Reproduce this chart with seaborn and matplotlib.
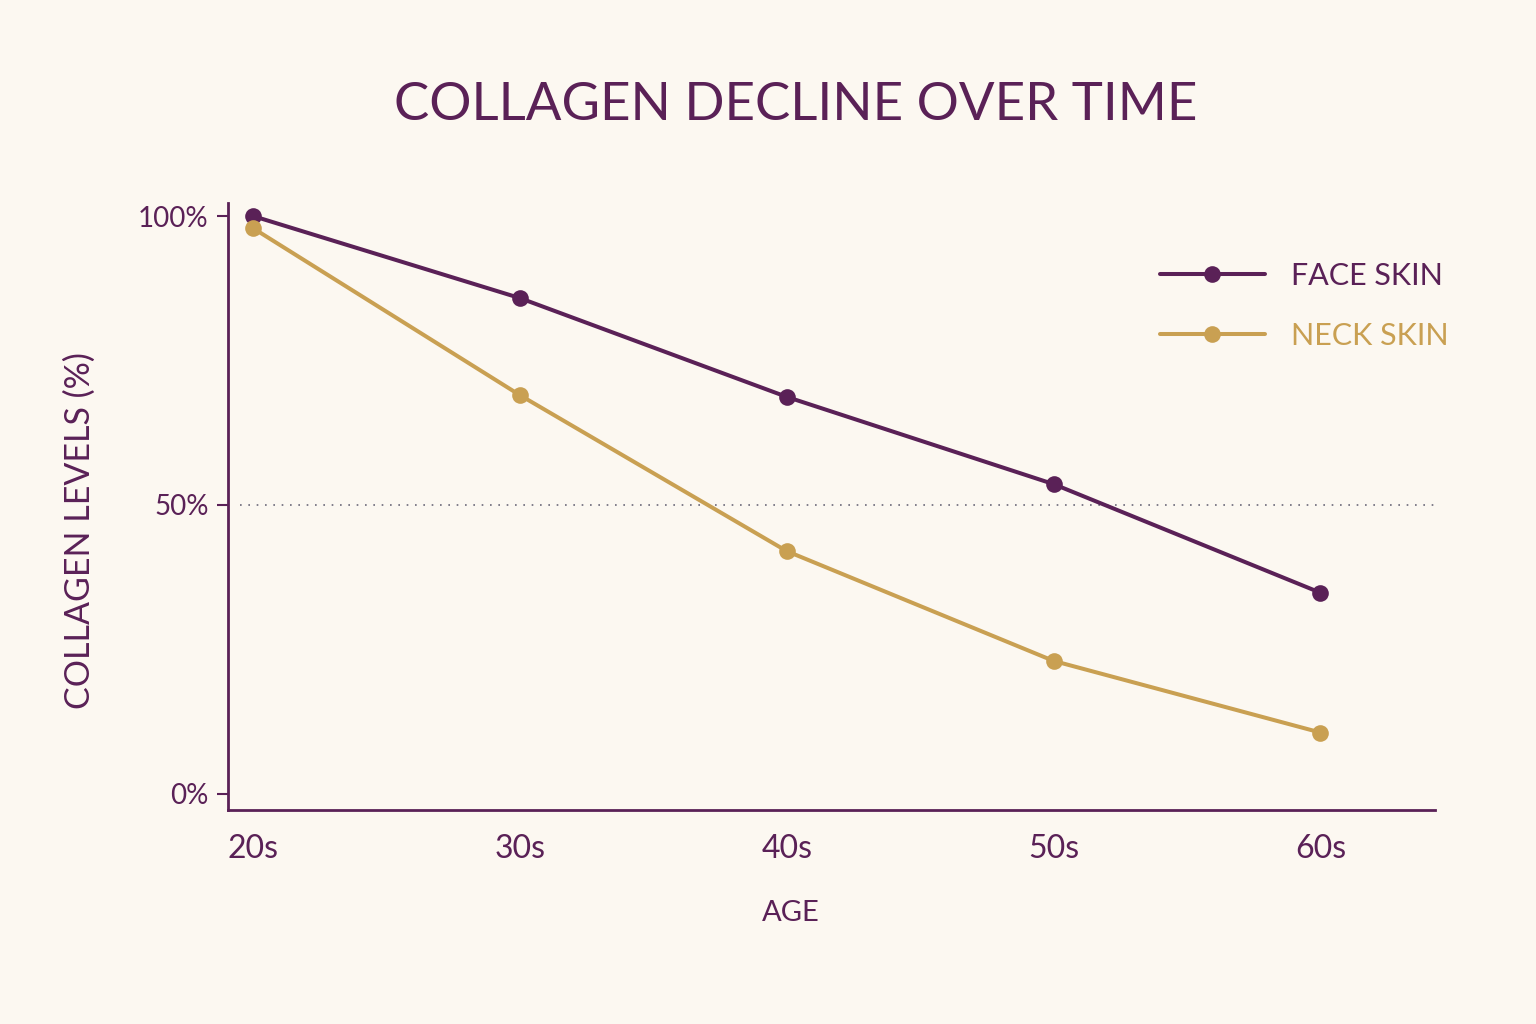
import pandas as pd
import matplotlib
matplotlib.use('Agg')
import matplotlib.pyplot as plt
import seaborn as sns

# Data
ages = ['20s', '30s', '40s', '50s', '60s']
face_skin = [100, 85.8, 68.7, 53.6, 34.8]
neck_skin = [97.9, 69.0, 42.0, 23.0, 10.6]

purple = '#5a2157'
gold = '#c9a052'
bg = '#fcf8f1'

df = pd.DataFrame({
    'age': ages * 2,
    'pos': list(range(len(ages))) * 2,
    'level': face_skin + neck_skin,
    'skin': ['FACE SKIN'] * len(ages) + ['NECK SKIN'] * len(ages),
})

sns.set_style('white')
plt.rcParams['font.family'] = ['Lato', 'DejaVu Sans']

fig = plt.figure(figsize=(15.36, 10.24), dpi=100, facecolor=bg)
ax = fig.add_axes([0.1484, 0.209, 0.786, 0.593])
ax.set_facecolor(bg)

sns.lineplot(data=df, x='pos', y='level', hue='skin',
             palette={'FACE SKIN': purple, 'NECK SKIN': gold},
             marker='o', markersize=12, markeredgewidth=0,
             linewidth=2.9, ax=ax)

# dotted 50% reference line
ax.axhline(50, color='#6b6878', linestyle=(0, (1, 4)), linewidth=1.2, zorder=0,
           xmin=0.01)

ax.set_xlim(-0.094, 4.43)
ax.set_ylim(-2.8, 102.3)
ax.set_xticks(range(len(ages)))
ax.set_xticklabels(ages)
ax.set_yticks([0, 50, 100])
ax.set_yticklabels(['0%', '50%', '100%'])
ax.tick_params(axis='y', length=8, width=1.5, color=purple, labelsize=20,
               labelcolor=purple, pad=6, left=True)
ax.tick_params(axis='x', length=0, labelsize=23, labelcolor=purple, pad=17)

for side in ['top', 'right']:
    ax.spines[side].set_visible(False)
for side in ['left', 'bottom']:
    ax.spines[side].set_color(purple)
    ax.spines[side].set_linewidth(2)

ax.set_xlabel('AGE', fontsize=21, color=purple, labelpad=26, x=0.466)
ax.set_ylabel('COLLAGEN LEVELS (%)', fontsize=24.5, color=purple, labelpad=30, y=0.46)

fig.text(0.518, 0.897, 'COLLAGEN DECLINE OVER TIME', ha='center', va='center',
         fontsize=38, color=purple)

leg = ax.legend(loc='upper left', bbox_to_anchor=(0.749, 0.948), frameon=False,
                handlelength=3.45, handletextpad=0.85, labelspacing=1.05,
                fontsize=22, labelcolor='linecolor')

fig.savefig('out.png', dpi=100, facecolor=bg)
